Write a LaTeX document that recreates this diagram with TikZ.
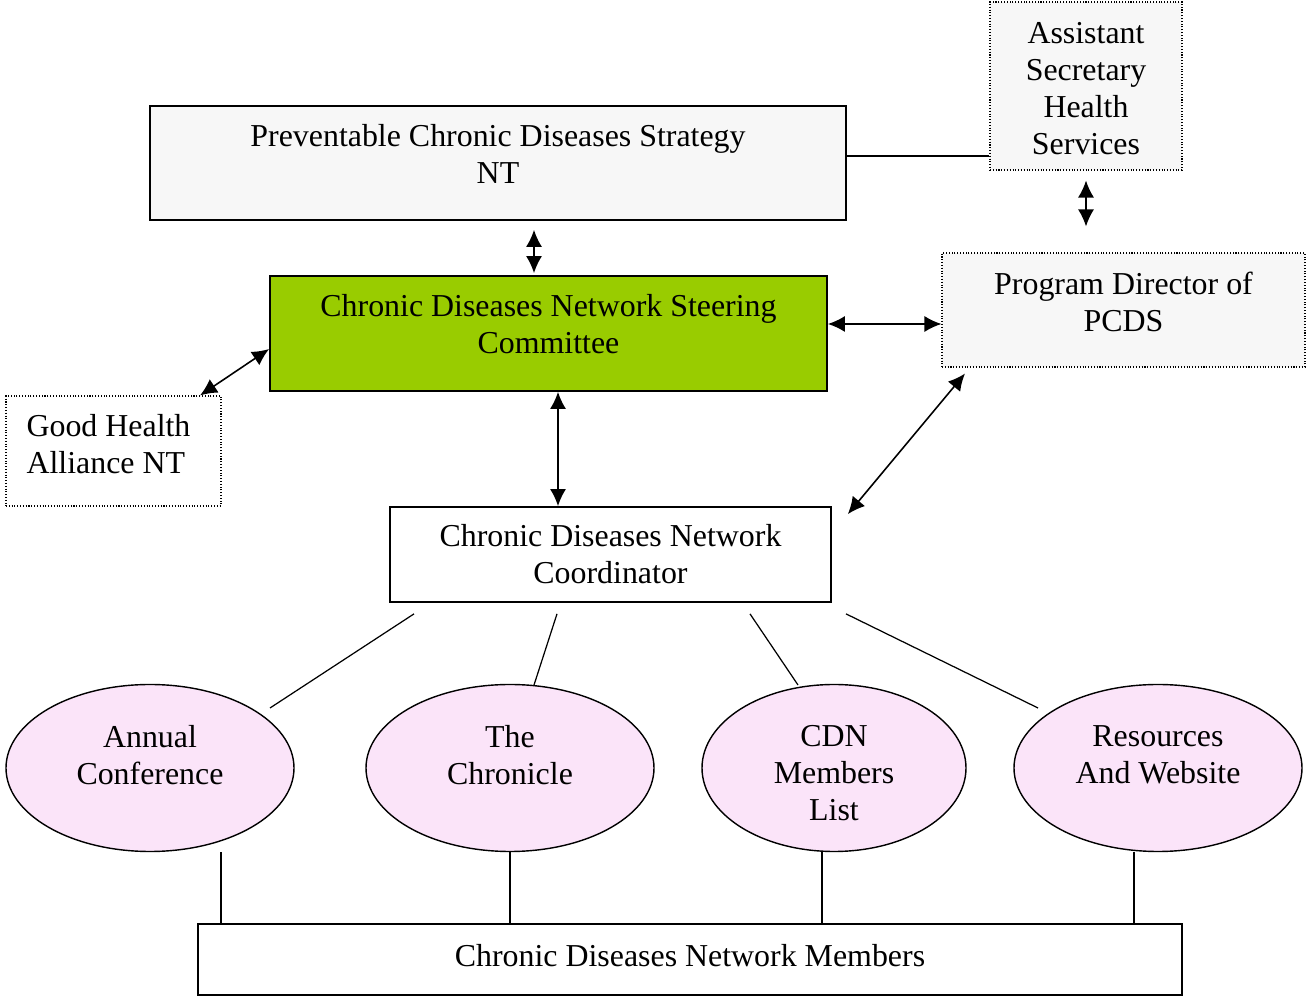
\documentclass[tikz,border=0pt]{standalone}
\usepackage{fontspec}
\setmainfont{Liberation Serif}
\usetikzlibrary{arrows.meta,shapes.geometric}
\definecolor{boxgray}{RGB}{247,247,247}
\definecolor{cdngreen}{RGB}{153,204,0}
\definecolor{ovalpink}{RGB}{251,228,249}
\tikzset{
  box/.style={draw,line width=1pt,rectangle,inner sep=0pt},
  dotbox/.style={draw,densely dotted,line width=0.6pt,rectangle,inner sep=0pt},
  oval/.style={draw,ellipse,fill=ovalpink,line width=0.8pt,minimum width=5.76cm,minimum height=3.34cm,inner sep=0pt,align=center},
}
\begin{document}
\begin{tikzpicture}[>={Latex[length=3.4mm,width=3.2mm]},line width=0.9pt,font=\fontsize{18.15}{21}\selectfont]
        \useasboundingbox(0,0)rectangle(26.12,19.92);
        % boxes
        \node[box,fill=boxgray,minimum width=13.92cm,minimum height=2.28cm,label={[align=center,yshift=0.18cm]center:{Preventable Chronic Diseases Strategy\\NT}}](pcds)at(9.96,16.66){};
        \node[dotbox,fill=boxgray,minimum width=3.84cm,minimum height=3.36cm,label={[align=center,yshift=-0.05cm]center:{Assistant\\Secretary\\Health\\Services}}](ashs)at(21.72,18.2){};
        \node[dotbox,fill=boxgray,minimum width=7.26cm,minimum height=2.28cm,label={[align=center,yshift=0.16cm]center:{Program Director of\\PCDS}}](pd)at(22.47,13.72){};
        \node[box,fill=cdngreen,minimum width=11.14cm,minimum height=2.3cm,label={[align=center,yshift=0.18cm]center:{Chronic Diseases Network Steering\\Committee}}](steer)at(10.97,13.25){};
        \node[dotbox,minimum width=4.3cm,minimum height=2.2cm,label={[align=left,xshift=-0.1cm,yshift=0.14cm]center:{Good Health\\Alliance NT}}](gha)at(2.27,10.9){};
        \node[box,minimum width=8.82cm,minimum height=1.9cm,align=center](coord)at(12.21,8.83){Chronic Diseases Network\\Coordinator};
        \node[box,minimum width=19.68cm,minimum height=1.42cm,label={[yshift=0.08cm]center:Chronic Diseases Network Members}](mem)at(13.8,0.73){};
        % ovals
        \node[oval,label={[align=center,yshift=0.26cm]center:{Annual\\Conference}}](conf)at(3.0,4.56){};
        \node[oval,label={[align=center,yshift=0.26cm]center:{The\\Chronicle}}](chron)at(10.2,4.56){};
        \node[oval,minimum width=5.28cm,label={[align=center,yshift=-0.1cm]center:{CDN\\Members\\List}}](cdn)at(16.68,4.56){};
        \node[oval,label={[align=center,yshift=0.26cm]center:{Resources\\And Website}}](res)at(23.16,4.56){};
        % links
        \draw([yshift=0.14cm]pcds.east)--([yshift=0.14cm]pcds.east-|ashs.west);
        \draw[<->]([xshift=0.72cm,yshift=-0.18cm]pcds.south)--([xshift=0.72cm,yshift=0.04cm]pcds.south|-steer.north);
        \draw[<->]([yshift=-0.2cm]ashs.south)--([yshift=0.52cm]ashs.south|-pd.north);
        \draw[<->]([yshift=0.19cm]steer.east)--([yshift=0.19cm]steer.east-|pd.west);
        \draw[<->]([yshift=-0.31cm]steer.west)--([xshift=1.73cm]gha.north);
        \draw[<->]([xshift=0.19cm]steer.south)--([xshift=0.19cm]steer.south|-coord.north);
        \draw[<->]([xshift=-3.17cm,yshift=-0.12cm]pd.south)--([xshift=0.32cm,yshift=-0.16cm]coord.north east);
        \foreach \e/\sx/\ex/\ey in {conf/-3.93/2.4/1.2,chron/-1.07/0.48/1.66,cdn/2.79/-0.72/1.66,res/4.71/-2.4/1.2}
            \draw[line width=0.7pt]([shift={(\sx,-0.22)}]coord.south)--([shift={(\ex,\ey)}]\e.center);
        \foreach \e/\dx in {conf/1.42,chron/0,cdn/-0.24,res/-0.48}
            \draw([xshift=\dx cm]\e.south)--([xshift=\dx cm]\e.south|-mem.north);
    \end{tikzpicture}
\end{document}
